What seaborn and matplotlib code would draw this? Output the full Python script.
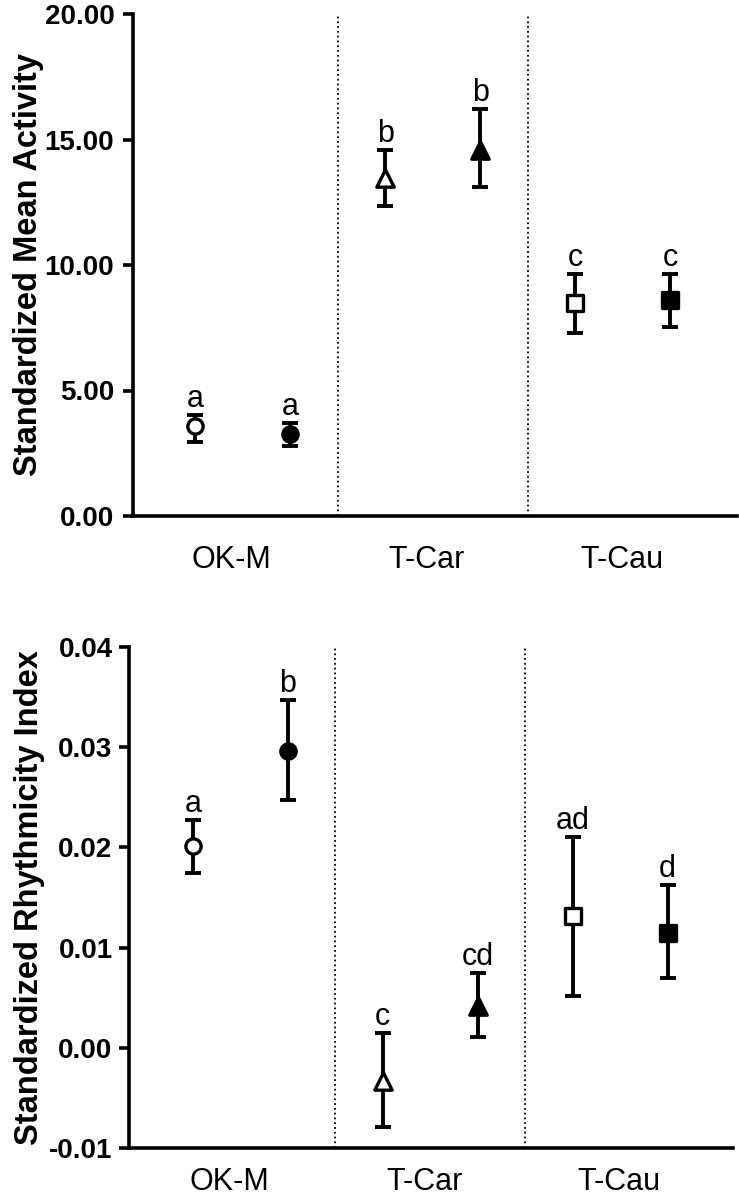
import numpy as np
import pandas as pd
import matplotlib
matplotlib.use("Agg")
import matplotlib.pyplot as plt
import seaborn as sns

# ---------------- data ----------------
groups = ["OK-M", "OK-M", "T-Car", "T-Car", "T-Cau", "T-Cau"]
group_labels = ["OK-M", "T-Car", "T-Cau"]
filled = [False, True, False, True, False, True]
shapes = ["o", "o", "^", "^", "s", "s"]

act_mean = [3.57, 3.25, 13.45, 14.60, 8.47, 8.59]
act_low = [2.96, 2.80, 12.35, 13.12, 7.28, 7.52]
act_high = [4.02, 3.70, 14.58, 16.23, 9.64, 9.64]
act_letters = ["a", "a", "b", "b", "c", "c"]

rhy_mean = [0.0201, 0.0296, -0.0033, 0.0042, 0.0132, 0.0115]
rhy_low = [0.01745, 0.02473, -0.00794, 0.00107, 0.00521, 0.00695]
rhy_high = [0.02276, 0.03473, 0.00147, 0.00748, 0.02107, 0.01625]
rhy_letters = ["a", "b", "c", "cd", "ad", "d"]

# ---------------- style ----------------
sns.set_style("ticks")
plt.rcParams["font.family"] = ["Liberation Sans", "DejaVu Sans"]
for key in ("text.color", "axes.labelcolor", "xtick.color", "ytick.color",
            "axes.edgecolor"):
    plt.rcParams[key] = "black"

W, H = 739, 1199
fig = plt.figure(figsize=(W / 100, H / 100), dpi=100)

ax1 = fig.add_axes([133 / W, 1 - 516 / H, (737 - 133) / W, (516 - 14) / H])
ax2 = fig.add_axes([128.5 / W, 1 - 1148 / H, (733 - 128.5) / W, (1148 - 647) / H])

label_pos = [0.38, 2.44, 4.49]


def draw(ax, mean, low, high, letters, ylim, yticks, ylabel, xlim, xpad, ypad, lpad):
    df = pd.DataFrame({
        "pos": np.arange(len(mean)),
        "mean": mean,
        "low": low,
        "high": high,
        "letter": letters,
        "shape": shapes,
        "filled": filled,
    })
    # separators
    for xs in (1.5, 3.5):
        ax.axvline(xs, ls=":", lw=1.3, color="black", zorder=1)
    # error bars
    yerr = np.vstack([df["mean"] - df["low"], df["high"] - df["mean"]])
    ax.errorbar(df["pos"], df["mean"], yerr=yerr, fmt="none", ecolor="black",
                elinewidth=2.8, capsize=6, capthick=2.8, zorder=2)
    # markers
    for i, row in df.iterrows():
        size = 12.5 if row["shape"] == "^" else 11
        sns.scatterplot(x=[row["pos"]], y=[row["mean"]], ax=ax,
                        marker=row["shape"], s=size ** 2,
                        color="black" if row["filled"] else "white",
                        edgecolor="black", linewidth=2.4, zorder=3,
                        legend=False)
        ax.annotate(row["letter"], (row["pos"], row["high"]),
                    xytext=(0, 5.5), textcoords="offset points",
                    ha="center", va="baseline", fontsize=22, color="black")
    ax.set_xlim(*xlim)
    ax.set_ylim(*ylim)
    ax.set_yticks(yticks)
    ax.yaxis.set_major_formatter(matplotlib.ticker.FormatStrFormatter("%.2f"))
    ax.set_xticks(label_pos)
    ax.set_xticklabels(group_labels, fontsize=22)
    ax.tick_params(axis="x", length=0, pad=xpad, colors="black")
    ax.tick_params(axis="y", length=7.5, width=2.6, pad=ypad, labelsize=20,
                   colors="black")
    for lab in ax.get_yticklabels():
        lab.set_fontweight("bold")
    ax.set_ylabel(ylabel, fontsize=23.5, fontweight="bold", labelpad=lpad,
                  color="black")
    ax.set_xlabel("")
    sns.despine(ax=ax)
    for sp in ("left", "bottom"):
        ax.spines[sp].set_linewidth(2.6)
        ax.spines[sp].set_color("black")


draw(ax1, act_mean, act_low, act_high, act_letters, (0, 20),
     [0, 5, 10, 15, 20], "Standardized Mean Activity", (-0.65, 5.70), 21, 6, 0)
draw(ax2, rhy_mean, rhy_low, rhy_high, rhy_letters, (-0.01, 0.04),
     [-0.01, 0.0, 0.01, 0.02, 0.03, 0.04], "Standardized Rhythmicity Index",
     (-0.68, 5.69), 14, 4, 3)

fig.savefig("out.png", dpi=100, facecolor="white")
